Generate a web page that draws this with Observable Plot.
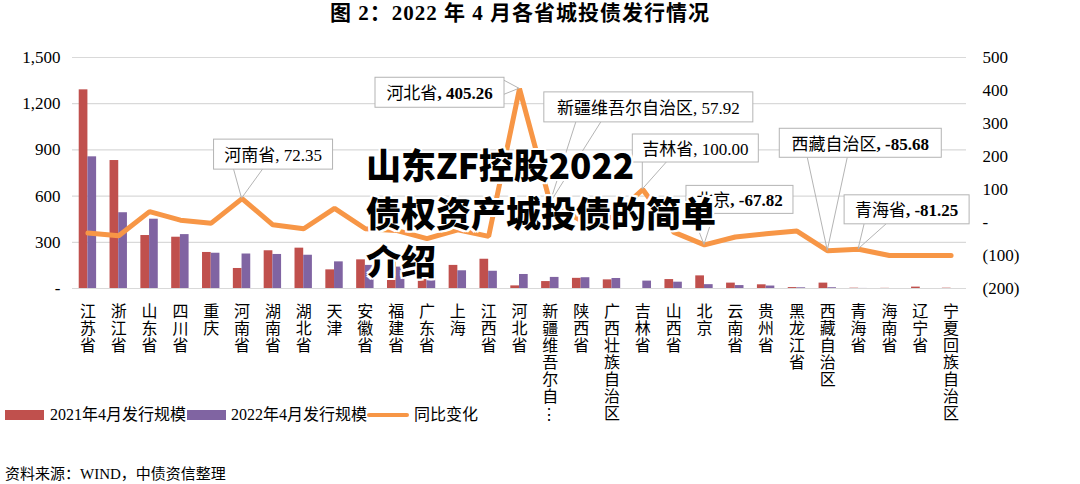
<!DOCTYPE html>
<html><head><meta charset="utf-8">
<script src="https://cdn.jsdelivr.net/npm/d3@7"></script>
<script src="https://cdn.jsdelivr.net/npm/@observablehq/plot@0.6"></script>
<style>
body{margin:0;background:#fff;}
#wrap{position:relative;width:1080px;height:484px;overflow:hidden;font-family:"Liberation Serif","Noto Sans CJK SC",serif;color:#000;}
#title{position:absolute;top:0;left:0;width:1040px;text-align:center;font-weight:bold;font-size:21px;letter-spacing:1px;line-height:26px;}
#chart{position:absolute;top:40px;left:0;}
.lg{position:absolute;top:404px;font-size:16px;line-height:22px;white-space:nowrap;}
.sw{position:absolute;}
#caption{position:absolute;top:464px;left:5px;font-size:15px;line-height:20px;}
#wm{position:absolute;left:366px;top:140px;font-family:"Noto Sans CJK SC",sans-serif;font-weight:900;font-size:35px;line-height:48px;color:#000;white-space:nowrap;
text-shadow:2px 0 #fff,-2px 0 #fff,0 2px #fff,0 -2px #fff,2px 2px #fff,-2px -2px #fff,2px -2px #fff,-2px 2px #fff;}
</style></head>
<body>
<div id="wrap">
  <div id="title">图 2：2022 年 4 月各省城投债发行情况</div>
  <div id="chart"></div>
  <div id="legend"></div>
  <div id="caption">资料来源：WIND，中债资信整理</div>
  <div id="wm">山东ZF控股2022<br>债权资产城投债的简单<br>介绍</div>
</div>
<script>
// ---- data ----
const provinces = ["江苏省","浙江省","山东省","四川省","重庆","河南省","湖南省","湖北省","天津","安徽省","福建省","广东省","上海","江西省","河北省","新疆维吾尔自治区","陕西省","广西壮族自治区","吉林省","山西省","北京","云南省","贵州省","黑龙江省","西藏自治区","青海省","海南省","辽宁省","宁夏回族自治区"];
const tickLabels = ["江苏省","浙江省","山东省","四川省","重庆","河南省","湖南省","湖北省","天津","安徽省","福建省","广东省","上海","江西省","河北省","新疆维吾尔自⋮","陕西省","广西壮族自治区","吉林省","山西省","北京","云南省","贵州省","黑龙江省","西藏自治区","青海省","海南省","辽宁省","宁夏回族自治区"];
const issue2021 = [1290,831,344,333,234,130,245,262,121,186,183,245,150,190,17,45,66,56,0,58,82,35,24,6,35,2,1,9,2];
const issue2022 = [855,492,450,350,229,224,221,216,173,150,139,125,115,112,91,72,70,65,48,41,25,19,16,4.5,5,0.4,0,0,0];
const yoy = [-32,-40,33,7,-2,72.35,-7,-19,43,-19,-24,-49,-22,-42,405.26,57.92,6,16,100,-29,-67.82,-44,-34,-26,-85.68,-81.25,-100,-100,-100];
const leftTicks = [0,300,600,900,1200,1500];
const rightTicks = [-200,-100,0,100,200,300,400,500];
const seriesNames = ["2021年4月发行规模","2022年4月发行规模","同比变化"];
const calloutNames = ["河南省","河北省","新疆维吾尔自治区","吉林省","北京","西藏自治区","青海省"];
const calloutBold = [false,true,false,false,true,true,true];

// ---- layout / style ----
const colors = ["#c0504d","#8064a2","#f79646"];
const W = 1080, H = 400, mL = 72, mR = 114, mT = 17, mB = 152;
const calloutLayout = [
  {dx:-28, dy:-59, w:119, h:30, base:[[-8,-29],[21,-29]]},
  {dx:-144, dy:-11, w:129, h:30, base:[[-15,-8],[-15,6]]},
  {dx:-6, dy:-111, w:209, h:30, base:[[26,-81],[51,-81]]},
  {dx:-10, dy:-55, w:126, h:28, base:[[0,-27],[24,-27]]},
  {dx:-18, dy:-59, w:107, h:28, base:[[-12,-31],[10,-31]]},
  {dx:-48, dy:-122, w:162, h:29, base:[[-20,-93],[20,-93]]},
  {dx:-14, dy:-54, w:125, h:29, base:[[6,-25],[28,-25]]}
];

const L0 = 0, L1 = 1500, R0 = -200, R1 = 500;
const toLeft = v => (v - R0) / (R1 - R0) * (L1 - L0) + L0;
const fromLeft = v => (v - L0) / (L1 - L0) * (R1 - R0) + R0;
const fmtR = v => v === 0 ? "-" : v < 0 ? `(${-v})` : `${v}`;
const fmtL = v => v === 0 ? "-" : d3.format(",")(v);

const rows = provinces.map((p, i) => ({p, a: issue2021[i], b: issue2022[i], y: yoy[i], label: tickLabels[i]}));
const step = (W - mL - mR) / provinces.length;
const barW = 8.7;

const chart = Plot.plot({
  width: W, height: H,
  marginLeft: mL, marginRight: mR, marginTop: mT, marginBottom: mB,
  style: {fontFamily: '"Liberation Serif","Noto Sans CJK SC",serif', fontSize: "17px", color: "#000", background: "#fff"},
  x: {domain: provinces, padding: 0, round: false, axis: null},
  y: {domain: [L0, L1], axis: null},
  marks: [
    Plot.gridY(leftTicks, {stroke: "#d9d9d9", strokeOpacity: 1, strokeWidth: 1.2}),
    Plot.barY(rows, {x: "p", y: "a", fill: colors[0], insetLeft: step/2 - barW, insetRight: step/2}),
    Plot.barY(rows, {x: "p", y: "b", fill: colors[1], insetLeft: step/2, insetRight: step/2 - barW}),
    Plot.line(rows, {x: "p", y: d => toLeft(d.y), stroke: colors[2], strokeWidth: 5, strokeLinejoin: "miter"}),
    Plot.axisY(leftTicks, {anchor: "left", tickSize: 0, tickPadding: 12, tickFormat: fmtL, label: null, fontSize: 17}),
    Plot.axisY(rightTicks.map(toLeft), {anchor: "right", tickSize: 0, tickPadding: 16, tickFormat: d => fmtR(Math.round(fromLeft(d))), label: null, fontSize: 17}),
    Plot.axisX({tickSize: 0, tickPadding: 14, label: null, fontSize: 16, fontFamily: '"Noto Sans CJK SC",sans-serif', tickFormat: d => tickLabels[provinces.indexOf(d)]})
  ]
});
document.getElementById("chart").appendChild(chart);

// vertical (stacked, upright) category labels
const svg = d3.select(chart);
svg.selectAll('g[aria-label="x-axis tick label"]').attr("dy", null).attr("text-anchor", "start");
svg.selectAll('g[aria-label="x-axis tick label"] text').each(function() {
  d3.select(this).attr("dy", null).attr("y", null).attr("text-anchor", "start")
   .style("writing-mode", "vertical-rl").style("text-orientation", "upright").style("letter-spacing", "1px");
});

// callouts
const xs = chart.scale("x"), ys = chart.scale("y");
const cg = svg.append("g").attr("aria-label", "callouts");
calloutNames.forEach((name, k) => {
  const i = provinces.indexOf(name);
  const px = xs.apply(name) + xs.bandwidth / 2;
  const py = ys.apply(toLeft(yoy[i]));
  const L = calloutLayout[k];
  const g = cg.append("g");
  g.append("polyline")
    .attr("points", [[px + L.base[0][0], py + L.base[0][1]], [px, py], [px + L.base[1][0], py + L.base[1][1]]].map(d => d.join(",")).join(" "))
    .attr("fill", "none").attr("stroke", "#b4b4b4").attr("stroke-width", 1);
  g.append("rect").attr("fill", "#fff").attr("stroke", "#b4b4b4").attr("stroke-width", 1)
    .attr("x", px + L.dx).attr("y", py + L.dy).attr("width", L.w).attr("height", L.h);
  const txt = g.append("text").attr("font-size", 17).attr("dominant-baseline", "central").attr("text-anchor", "middle")
    .attr("x", px + L.dx + L.w / 2).attr("y", py + L.dy + L.h / 2 + 1);
  txt.append("tspan").text(name);
  txt.append("tspan").text(", " + yoy[i].toFixed(2)).attr("font-weight", calloutBold[k] ? "bold" : null);
});

// legend
const lg = document.getElementById("legend");
const legendLayout = [
  {sw: {left: 5, top: 410, w: 39, h: 10}, tx: 50},
  {sw: {left: 187, top: 410, w: 39, h: 10}, tx: 231},
  {sw: {left: 367, top: 413, w: 42, h: 4, r: 2}, tx: 414}
];
seriesNames.forEach((s, i) => {
  const L = legendLayout[i];
  const sw = document.createElement("div");
  sw.className = "sw";
  Object.assign(sw.style, {left: L.sw.left + "px", top: L.sw.top + "px", width: L.sw.w + "px", height: L.sw.h + "px", background: colors[i], borderRadius: (L.sw.r || 0) + "px"});
  lg.appendChild(sw);
  const t = document.createElement("div");
  t.className = "lg";
  t.style.left = L.tx + "px";
  t.textContent = s;
  lg.appendChild(t);
});
</script>
</body></html>
